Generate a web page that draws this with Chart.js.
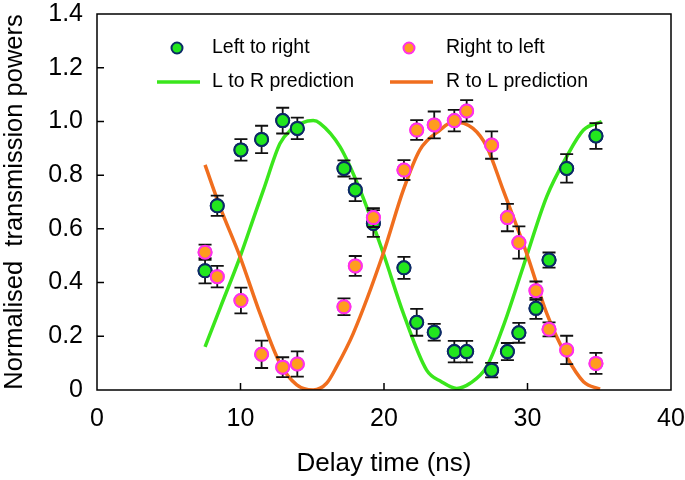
<!DOCTYPE html>
<html>
<head>
<meta charset="utf-8">
<script src="https://cdn.jsdelivr.net/npm/chart.js@4.4.1/dist/chart.umd.min.js"></script>
<style>
  html, body { margin: 0; padding: 0; background: #ffffff; }
  #wrap { width: 685px; height: 480px; }
</style>
</head>
<body>
<div id="wrap"><canvas id="c" width="685" height="480"></canvas></div>
<script>
// ---- Data ----
const delay = [7.53, 8.38, 10.03, 11.47, 12.94, 13.96, 17.21, 18.0, 19.26, 21.39, 22.28, 23.5, 24.9, 25.76, 27.5, 28.6, 29.4, 30.59, 31.5, 32.73, 34.77];
const leftToRight = [0.444, 0.686, 0.894, 0.933, 1.003, 0.974, 0.825, 0.745, 0.62, 0.455, 0.252, 0.215, 0.143, 0.143, 0.074, 0.143, 0.213, 0.304, 0.484, 0.825, 0.946];
const leftToRightErr = [0.047, 0.038, 0.04, 0.051, 0.048, 0.04, 0.03, 0.042, 0.05, 0.041, 0.05, 0.031, 0.04, 0.04, 0.027, 0.032, 0.037, 0.039, 0.028, 0.053, 0.048];
const rightToLeft = [0.513, 0.422, 0.333, 0.133, 0.085, 0.097, 0.31, 0.462, 0.642, 0.819, 0.968, 0.987, 1.003, 1.039, 0.912, 0.642, 0.549, 0.37, 0.226, 0.149, 0.099];
const rightToLeftErr = [0.028, 0.04, 0.048, 0.051, 0.037, 0.047, 0.031, 0.037, 0.035, 0.037, 0.037, 0.05, 0.04, 0.04, 0.051, 0.051, 0.06, 0.034, 0.026, 0.053, 0.039];

const predLRx = [7.53, 8.6, 9.97, 11.0, 11.6, 12.75, 13.5, 14.3, 15.07, 15.54, 16.93, 18.33, 19.95, 21.35, 22.97, 24.0, 25.07, 26.0, 27.16, 28.3, 29.7, 31.34, 32.73, 33.9, 35.17];
const predLRy = [0.161, 0.308, 0.496, 0.654, 0.745, 0.918, 0.968, 0.995, 1.003, 0.993, 0.906, 0.745, 0.509, 0.285, 0.074, 0.031, 0.006, 0.025, 0.087, 0.236, 0.459, 0.72, 0.869, 0.968, 0.999];
const predRLx = [7.53, 8.57, 9.97, 11.36, 12.75, 13.92, 15.07, 16.0, 16.7, 17.86, 19.95, 21.35, 22.5, 23.9, 24.83, 26.2, 27.16, 28.3, 29.94, 31.34, 32.73, 33.9, 35.05];
const predRLy = [0.838, 0.682, 0.496, 0.285, 0.099, 0.019, 0.0, 0.025, 0.087, 0.211, 0.509, 0.745, 0.894, 0.968, 0.999, 0.974, 0.906, 0.745, 0.509, 0.285, 0.124, 0.031, 0.003];

const xTickValues = [0, 10, 20, 30, 40];
const xTickLabels = ['0', '10', '20', '30', '40'];
const yTickValues = [0, 0.2, 0.4, 0.6, 0.8, 1.0, 1.2, 1.4];
const yTickLabels = ['0', '0.2', '0.4', '0.6', '0.8', '1.0', '1.2', '1.4'];

const seriesNames = ['Left to right', 'Right to left', 'L to R prediction', 'R to L prediction'];
const xTitle = 'Delay time (ns)';
const yTitle = 'Normalised  transmission powers';

// ---- Styles ----
const FONT = '"Liberation Sans", Arial, Helvetica, sans-serif';
const greenFill = '#22e61e';
const greenEdge = '#0c2a66';
const orangeFill = '#ff9c1e';
const orangeEdge = '#ff30ea';
const greenLine = '#3ae61c';
const orangeLine = '#f06e1e';

const toXY = (xs, ys) => xs.map((x, i) => ({ x: x, y: ys[i] }));

const errorBarPlugin = {
  id: 'errorBars',
  afterDatasetDraw(chart, args) {
    const ds = chart.data.datasets[args.index];
    if (!ds.errors) return;
    const xs = chart.scales.x, ys = chart.scales.y;
    const ctx = chart.ctx;
    ctx.save();
    ctx.strokeStyle = '#111111';
    ctx.lineWidth = 1.8;
    const cap = 6.5;
    ds.data.forEach((p, i) => {
      const e = ds.errors[i];
      const px = xs.getPixelForValue(p.x);
      const top = ys.getPixelForValue(p.y + e);
      const bot = ys.getPixelForValue(p.y - e);
      ctx.beginPath();
      ctx.moveTo(px, top); ctx.lineTo(px, bot);
      ctx.moveTo(px - cap, top); ctx.lineTo(px + cap, top);
      ctx.moveTo(px - cap, bot); ctx.lineTo(px + cap, bot);
      ctx.stroke();
    });
    const meta = chart.getDatasetMeta(args.index);
    meta.data.forEach(el => el.draw(ctx, chart.chartArea));
    ctx.restore();
  }
};

const framePlugin = {
  id: 'frame',
  afterDraw(chart) {
    const ctx = chart.ctx;
    const a = chart.chartArea;
    const xs = chart.scales.x, ys = chart.scales.y;
    ctx.save();
    ctx.strokeStyle = '#000000';
    ctx.lineWidth = 1.5;
    ctx.strokeRect(a.left, a.top, a.right - a.left, a.bottom - a.top);
    const tl = 7;
    ctx.beginPath();
    xTickValues.forEach(v => {
      if (v === xs.min || v === xs.max) return;
      const px = xs.getPixelForValue(v);
      ctx.moveTo(px, a.bottom); ctx.lineTo(px, a.bottom - tl);
    });
    yTickValues.forEach(v => {
      if (v === ys.min || v === ys.max) return;
      const py = ys.getPixelForValue(v);
      ctx.moveTo(a.left, py); ctx.lineTo(a.left + tl, py);
    });
    ctx.stroke();

    // legend
    ctx.font = '19.5px ' + FONT;
    ctx.textBaseline = 'middle';
    ctx.textAlign = 'left';
    const row1 = 48, row2 = 82;
    ctx.lineWidth = 2;
    ctx.beginPath(); ctx.arc(177, row1, 5.5, 0, Math.PI * 2);
    ctx.fillStyle = greenFill; ctx.fill(); ctx.strokeStyle = greenEdge; ctx.stroke();
    ctx.beginPath(); ctx.arc(409, row1, 5.5, 0, Math.PI * 2);
    ctx.fillStyle = orangeFill; ctx.fill(); ctx.strokeStyle = orangeEdge; ctx.stroke();
    ctx.lineWidth = 3.5;
    ctx.strokeStyle = greenLine;
    ctx.beginPath(); ctx.moveTo(157, row2); ctx.lineTo(200, row2); ctx.stroke();
    ctx.strokeStyle = orangeLine;
    ctx.beginPath(); ctx.moveTo(390, row2); ctx.lineTo(433, row2); ctx.stroke();
    ctx.fillStyle = '#000000';
    ctx.fillText(seriesNames[0], 212, row1);
    ctx.fillText(seriesNames[1], 446, row1);
    ctx.fillText(seriesNames[2], 212, row2);
    ctx.fillText(seriesNames[3], 446, row2);
    ctx.restore();
  }
};

new Chart(document.getElementById('c'), {
  type: 'scatter',
  data: {
    datasets: [
      {
        label: seriesNames[0],
        data: toXY(delay, leftToRight),
        errors: leftToRightErr,
        backgroundColor: greenFill,
        borderColor: greenEdge,
        borderWidth: 2,
        pointRadius: 6.5,
        showLine: false,
        order: 1
      },
      {
        label: seriesNames[1],
        data: toXY(delay, rightToLeft),
        errors: rightToLeftErr,
        backgroundColor: orangeFill,
        borderColor: orangeEdge,
        borderWidth: 2,
        pointRadius: 6.5,
        showLine: false,
        order: 0
      },
      {
        label: seriesNames[2],
        data: toXY(predLRx, predLRy),
        borderColor: greenLine,
        backgroundColor: greenLine,
        borderWidth: 3.5,
        pointRadius: 0,
        showLine: true,
        cubicInterpolationMode: 'monotone',
        order: 3
      },
      {
        label: seriesNames[3],
        data: toXY(predRLx, predRLy),
        borderColor: orangeLine,
        backgroundColor: orangeLine,
        borderWidth: 3.5,
        pointRadius: 0,
        showLine: true,
        cubicInterpolationMode: 'monotone',
        order: 2
      }
    ]
  },
  options: {
    responsive: false,
    animation: false,
    devicePixelRatio: 1,
    layout: { padding: { left: 0, right: 14, top: 14, bottom: 0 } },
    plugins: {
      legend: { display: false },
      tooltip: { enabled: false }
    },
    scales: {
      x: {
        type: 'linear',
        min: 0, max: 40,
        afterBuildTicks(scale) { scale.ticks = xTickValues.map(v => ({ value: v })); },
        afterFit(scale) { scale.height = 90; scale.paddingLeft = 0; scale.paddingRight = 0; },
        grid: { display: false, drawTicks: false },
        border: { display: false },
        ticks: {
          color: '#000000',
          font: { family: FONT, size: 25 },
          padding: 14,
          maxRotation: 0,
          callback: (v) => { const i = xTickValues.indexOf(v); return i >= 0 ? xTickLabels[i] : ''; }
        },
        title: {
          display: true,
          text: xTitle,
          color: '#000000',
          font: { family: FONT, size: 26 },
          padding: { top: 0, bottom: 1 }
        }
      },
      y: {
        type: 'linear',
        min: 0, max: 1.4,
        afterBuildTicks(scale) { scale.ticks = yTickValues.map(v => ({ value: v })); },
        afterFit(scale) { scale.width = 97; scale.paddingTop = 0; scale.paddingBottom = 0; },
        grid: { display: false, drawTicks: false },
        border: { display: false },
        ticks: {
          color: '#000000',
          font: { family: FONT, size: 25 },
          padding: 14,
          callback: (v) => { const i = yTickValues.findIndex(t => Math.abs(t - v) < 1e-9); return i >= 0 ? yTickLabels[i] : ''; }
        },
        title: {
          display: true,
          text: yTitle,
          color: '#000000',
          font: { family: FONT, size: 25.5 },
          padding: { top: 0, bottom: 0 }
        }
      }
    }
  },
  plugins: [errorBarPlugin, framePlugin]
});
</script>
</body>
</html>
